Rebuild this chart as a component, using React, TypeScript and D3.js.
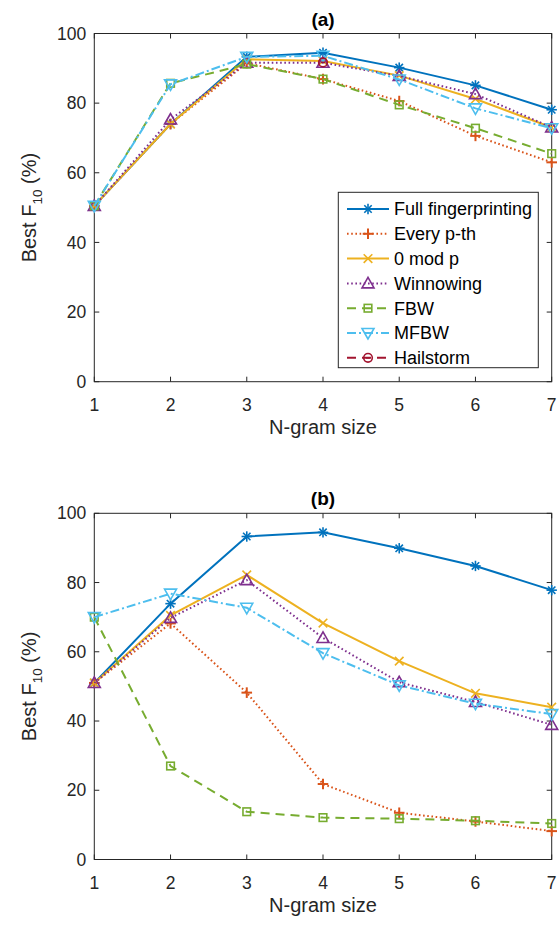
import React from "react";
import * as d3 from "d3";

const nGrams = [1, 2, 3, 4, 5, 6, 7];
const yTicks = [0, 20, 40, 60, 80, 100];
const seriesNames = ["Full fingerprinting", "Every p-th", "0 mod p", "Winnowing", "FBW", "MFBW", "Hailstorm"];
const seriesColors = ["#0072BD", "#D95319", "#EDB120", "#7E2F8E", "#77AC30", "#4DBEEE", "#A2142F"];
const seriesDash = ["", "1.6 2.6", "", "1.6 2.6", "9 6", "9 3 2 3", "9 6"];
const seriesMarker = ["star", "plus", "x", "tri", "square", "tridown", "circle"];

const N = NaN;
// Panel (a)
const aFull = [50.5, 74, 93.3, 94.5, 90.2, 85.1, 78.1];
const aEvery = [50.5, 74, 91.5, 86.9, 80.6, 70.6, 63];
const aZeroMod = [50.5, 74, 92.6, 92.1, 87.9, 81.2, 73];
const aWinnow = [50.5, 75.3, 91.6, 91.6, 87.8, 82.6, 73];
const aFBW = [50.5, 85.7, 91.2, 86.9, 79.5, 72.8, 65.5];
const aMFBW = [50.5, 85.4, 93.3, 93.6, 86.8, 78.5, 72.8];
const aHail = [N, N, N, 91.7, N, N, N];
// Panel (b)
const bFull = [51, 73.9, 93.3, 94.5, 89.9, 84.8, 77.8];
const bEvery = [51, 68.2, 48.2, 21.8, 13.5, 11, 8.2];
const bZeroMod = [51, 70.5, 82.2, 68.3, 57.3, 48, 44];
const bWinnow = [51, 69.8, 80.7, 64, 51.2, 45.5, 38.9];
const bFBW = [70, 27, 13.8, 12.1, 11.8, 11.2, 10.4];
const bMFBW = [70, 76.8, 72.7, 59.6, 50.3, 45, 42];
const bHail = [N, N, N, N, N, N, N];

const panelA = [aFull, aEvery, aZeroMod, aWinnow, aFBW, aMFBW, aHail];
const panelB = [bFull, bEvery, bZeroMod, bWinnow, bFBW, bMFBW, bHail];

const FONT = "'Liberation Sans', Arial, sans-serif";
const AX = "#262626";

function Marker({ type, x, y, color }: { type: string; x: number; y: number; color: string }) {
  const p = { stroke: color, strokeWidth: 1.6, fill: "none" } as any;
  if (type === "star") {
    const r = 5.2, d = 3.7;
    return (
      <g {...p}>
        <line x1={x - r} y1={y} x2={x + r} y2={y} />
        <line x1={x} y1={y - r} x2={x} y2={y + r} />
        <line x1={x - d} y1={y - d} x2={x + d} y2={y + d} />
        <line x1={x - d} y1={y + d} x2={x + d} y2={y - d} />
      </g>
    );
  }
  if (type === "plus") {
    const r = 5.3;
    return (
      <g {...p} strokeWidth={2}>
        <line x1={x - r} y1={y} x2={x + r} y2={y} />
        <line x1={x} y1={y - r} x2={x} y2={y + r} />
      </g>
    );
  }
  if (type === "x") {
    const d = 4.3;
    return (
      <g {...p}>
        <line x1={x - d} y1={y - d} x2={x + d} y2={y + d} />
        <line x1={x - d} y1={y + d} x2={x + d} y2={y - d} />
      </g>
    );
  }
  if (type === "tri") {
    const r = 6;
    return <polygon {...p} points={`${x},${y - r} ${x - r},${y + r * 0.75} ${x + r},${y + r * 0.75}`} />;
  }
  if (type === "tridown") {
    const r = 6;
    return <polygon {...p} points={`${x},${y + r} ${x - r},${y - r * 0.75} ${x + r},${y - r * 0.75}`} />;
  }
  if (type === "square") {
    const r = 3.8;
    return <rect {...p} x={x - r} y={y - r} width={2 * r} height={2 * r} />;
  }
  if (type === "circle") {
    return (
      <g {...p}>
        <circle cx={x} cy={y} r={4.3} />
        <line x1={x - 2} y1={y} x2={x + 2} y2={y} />
      </g>
    );
  }
  return null;
}

function Panel({ data, top, bottom, title, legend }: { data: number[][]; top: number; bottom: number; title: string; legend: boolean }) {
  const x = d3.scaleLinear().domain([1, 7]).range([94.3, 551.7]);
  const y = d3.scaleLinear().domain([0, 100]).range([bottom, top]);
  const line = d3
    .line<number>()
    .defined((v) => !isNaN(v))
    .x((_, i) => x(nGrams[i]))
    .y((v) => y(v));
  const left = x(1), right = x(7);
  const midY = (top + bottom) / 2;
  return (
    <g>
      <text x={(left + right) / 2} y={top - 8} textAnchor="middle" fontFamily={FONT} fontWeight="bold" fontSize={19} fill="#000">
        {title}
      </text>
      <rect x={left} y={top} width={right - left} height={bottom - top} fill="#fff" stroke={AX} strokeWidth={1} />
      {nGrams.map((t) => (
        <g key={"xt" + t}>
          <line x1={x(t)} x2={x(t)} y1={bottom} y2={bottom - 5} stroke={AX} />
          <line x1={x(t)} x2={x(t)} y1={top} y2={top + 5} stroke={AX} />
          <text x={x(t)} y={bottom + 29} textAnchor="middle" fontFamily={FONT} fontSize={17.5} fill={AX}>
            {t}
          </text>
        </g>
      ))}
      {yTicks.map((t) => (
        <g key={"yt" + t}>
          <line x1={left} x2={left + 5} y1={y(t)} y2={y(t)} stroke={AX} />
          <line x1={right} x2={right - 5} y1={y(t)} y2={y(t)} stroke={AX} />
          <text x={left - 8} y={y(t)} dy="0.35em" textAnchor="end" fontFamily={FONT} fontSize={17.5} fill={AX}>
            {t}
          </text>
        </g>
      ))}
      <text x={(left + right) / 2} y={bottom + 52} textAnchor="middle" fontFamily={FONT} fontSize={20} fill={AX}>
        N-gram size
      </text>
      <text transform={`translate(36,${midY}) rotate(-90)`} textAnchor="middle" fontFamily={FONT} fontSize={20} fill={AX}>
        Best F<tspan fontSize={13.5} dy={6}>10</tspan>
        <tspan dy={-6}> (%)</tspan>
      </text>
      {data.map((s, si) => (
        <g key={"s" + si}>
          <path d={line(s) || ""} fill="none" stroke={seriesColors[si]} strokeWidth={2} strokeDasharray={seriesDash[si]} />
          {s.map((v, i) =>
            isNaN(v) ? null : <Marker key={i} type={seriesMarker[si]} x={x(nGrams[i])} y={y(v)} color={seriesColors[si]} />
          )}
        </g>
      ))}
      {legend && (
        <g>
          <rect x={338.3} y={192.3} width={200} height={175.4} fill="#fff" stroke={AX} strokeWidth={1} />
          {seriesNames.map((name, i) => {
            const ly = 209 + i * 24.8;
            return (
              <g key={"lg" + i}>
                <line x1={347} x2={389} y1={ly} y2={ly} stroke={seriesColors[i]} strokeWidth={2} strokeDasharray={seriesDash[i]} />
                <Marker type={seriesMarker[i]} x={368} y={ly} color={seriesColors[i]} />
                <text x={394} y={ly} dy="0.35em" fontFamily={FONT} fontSize={18} fill="#000">
                  {name}
                </text>
              </g>
            );
          })}
        </g>
      )}
    </g>
  );
}

export default function App() {
  return (
    <svg width={560} height={925} style={{ position: "absolute", left: 0, top: 0, background: "#fff" }}>
      <rect width={560} height={925} fill="#fff" />
      <Panel data={panelA} top={33.5} bottom={381.7} title="(a)" legend={true} />
      <Panel data={panelB} top={513.3} bottom={859.5} title="(b)" legend={false} />
    </svg>
  );
}
